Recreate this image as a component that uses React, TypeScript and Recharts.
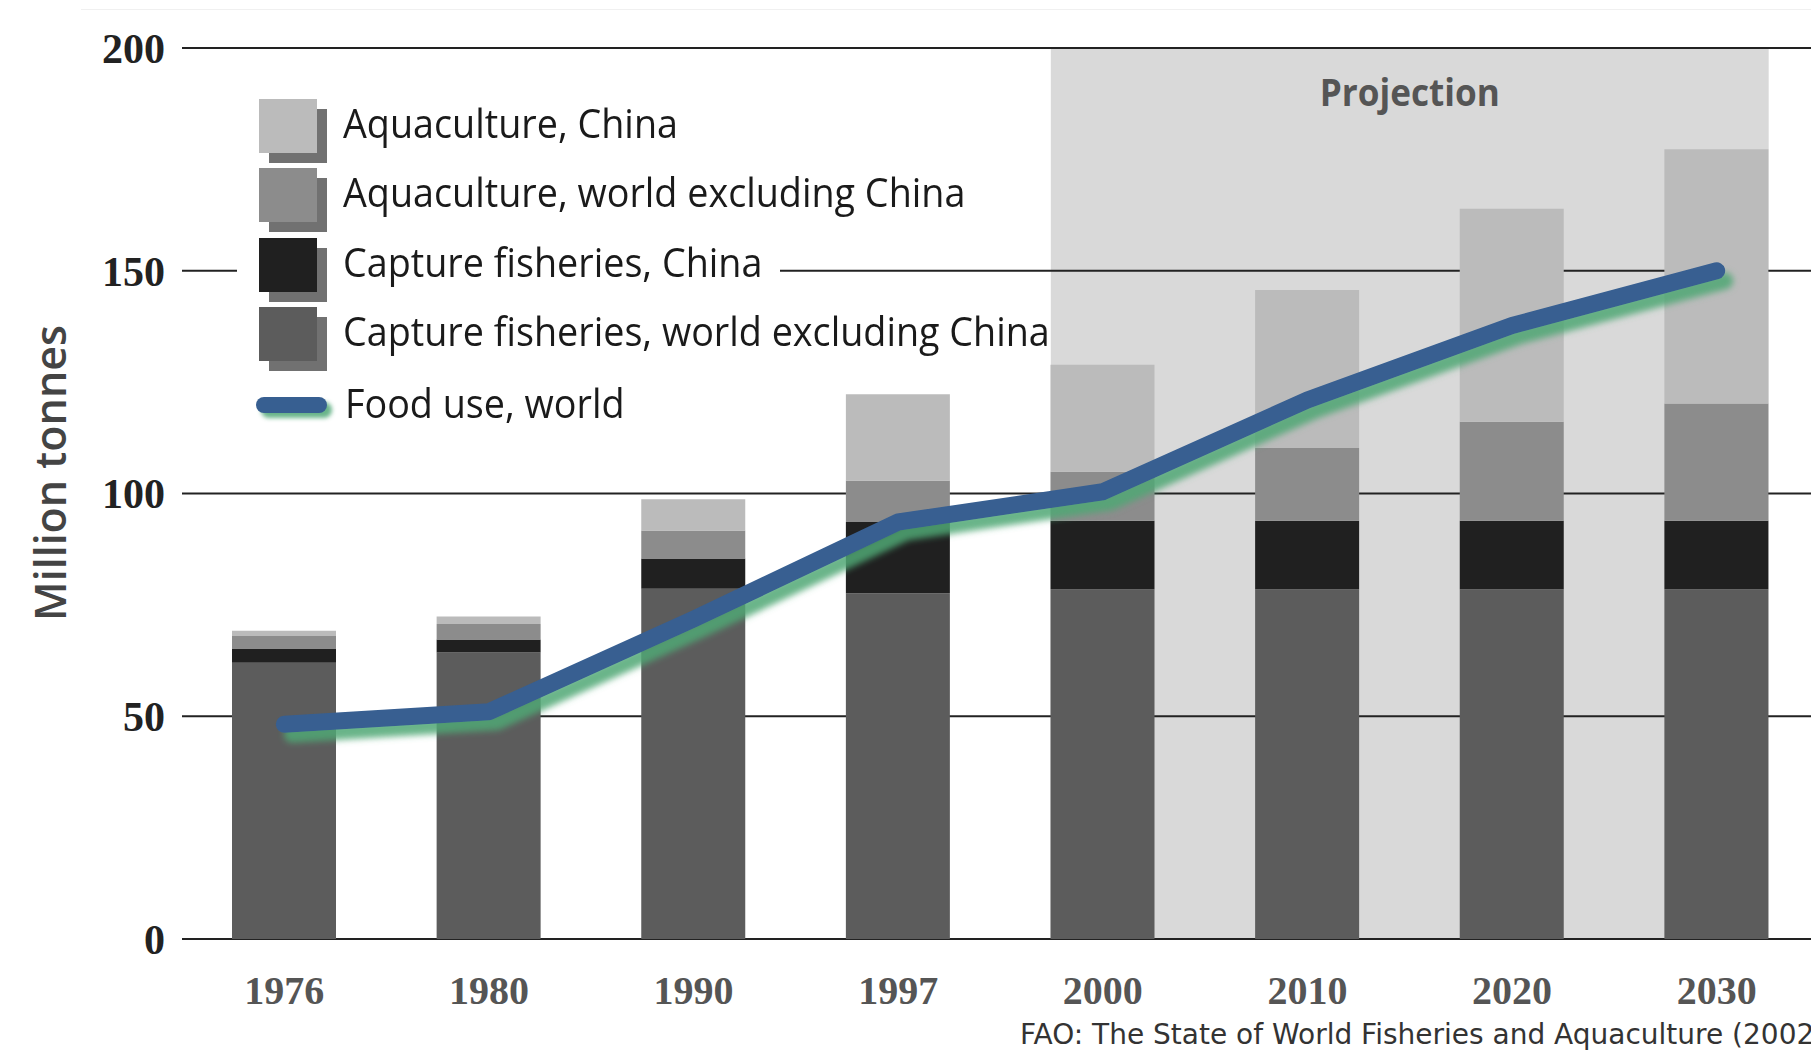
import { Bar, CartesianGrid, ComposedChart, Line, ReferenceArea, XAxis, YAxis } from "recharts";

// values, million tonnes
const years = ["1976", "1980", "1990", "1997", "2000", "2010", "2020", "2030"];
const captureWorld = [62.0, 64.3, 78.6, 77.6, 78.5, 78.5, 78.5, 78.5];
const captureChina = [3.2, 2.9, 6.8, 16.0, 15.4, 15.4, 15.4, 15.4];
const aquaWorld = [2.8, 3.5, 6.3, 9.3, 11.0, 16.3, 22.2, 26.3];
const aquaChina = [1.2, 1.7, 7.0, 19.4, 24.0, 35.5, 47.8, 57.1];
const foodUse = [48.2, 51.0, 71.8, 93.6, 100.4, 121.0, 137.7, 150.0];
const yTicks = [0, 50, 100, 150, 200];
const projectionYears = ["2000", "2030"];

const legendItems = [
  { label: "Aquaculture, China", color: "#bbbbbb" },
  { label: "Aquaculture, world excluding China", color: "#8c8c8c" },
  { label: "Capture fisheries, China", color: "#202020" },
  { label: "Capture fisheries, world excluding China", color: "#5c5c5c" },
];

const data = years.map((year, i) => ({
  year,
  captureWorld: captureWorld[i],
  captureChina: captureChina[i],
  aquaWorld: aquaWorld[i],
  aquaChina: aquaChina[i],
  food: foodUse[i],
}));

const BAR_SIZE = 104;
const textFont = "'Open Sans', 'Noto Sans', sans-serif";
const numFont = "'Liberation Serif', 'DejaVu Serif', serif";

function ProjectionShape(props: any) {
  const { x, y, width, height } = props;
  const n = years.indexOf(projectionYears[1]) - years.indexOf(projectionYears[0]) + 1;
  const inset = (width / n - BAR_SIZE) / 2;
  return (
    <g>
      <rect x={x + inset} y={y} width={width - inset * 2} height={height} fill="#d9d9d9" />
      <text
        x={x + width / 2}
        y={y + 48}
        textAnchor="middle"
        dominantBaseline="middle"
        fill="#555555"
        fontFamily={textFont}
        fontWeight={700}
        fontSize={37}
        textLength={180}
        lengthAdjust="spacingAndGlyphs"
      >
        Projection
      </text>
    </g>
  );
}

export default function App() {
  return (
    <div
      style={{
        position: "absolute",
        left: 0,
        top: 0,
        width: 1811,
        height: 1052,
        overflow: "hidden",
        background: "#ffffff",
      }}
    >
      <div style={{ position: "absolute", left: 81, right: 0, top: 9, height: 1, background: "#f0f0f0" }} />
      <ComposedChart
        width={1811}
        height={1052}
        data={data}
        margin={{ top: 48, right: -8, bottom: 83, left: 0 }}
        barCategoryGap={0}
        style={{ overflow: "visible" }}
      >
        <defs>
          <filter id="glow" x="-10%" y="-20%" width="130%" height="160%">
            <feDropShadow dx={8} dy={10} stdDeviation={3} floodColor="#4fa775" floodOpacity={0.85} />
          </filter>
        </defs>
        <ReferenceArea
          x1={projectionYears[0]}
          x2={projectionYears[1]}
          y1={0}
          y2={200}
          shape={ProjectionShape}
          zIndex={-150}
        />
        <CartesianGrid horizontal vertical={false} stroke="#222222" strokeWidth={2} strokeOpacity={1} />
        <XAxis
          dataKey="year"
          height={30}
          axisLine={false}
          tickLine={false}
          tickSize={0}
          tickMargin={37}
          tick={{ fill: "#555555", fontSize: 40, fontWeight: 700, fontFamily: numFont }}
          interval={0}
        />
        <YAxis
          domain={[0, 200]}
          ticks={yTicks}
          width={182}
          axisLine={false}
          tickLine={false}
          tickSize={0}
          tickMargin={17}
          tick={{ fill: "#222222", fontSize: 42, fontWeight: 700, fontFamily: numFont }}
        />
        <Bar dataKey="captureWorld" stackId="a" fill="#5c5c5c" barSize={BAR_SIZE} isAnimationActive={false} />
        <Bar dataKey="captureChina" stackId="a" fill="#202020" barSize={BAR_SIZE} isAnimationActive={false} />
        <Bar dataKey="aquaWorld" stackId="a" fill="#8c8c8c" barSize={BAR_SIZE} isAnimationActive={false} />
        <Bar dataKey="aquaChina" stackId="a" fill="#bbbbbb" barSize={BAR_SIZE} isAnimationActive={false} />
        <Line
          type="linear"
          dataKey="food"
          stroke="#375f91"
          strokeWidth={17}
          strokeLinecap="round"
          strokeLinejoin="round"
          dot={false}
          filter="url(#glow)"
          isAnimationActive={false}
        />
      </ComposedChart>

      {/* white patch where the legend interrupts the 150 gridline */}
      <div style={{ position: "absolute", left: 237, top: 236, width: 543, height: 62, background: "#ffffff" }} />

      {legendItems.map((item, i) => (
        <div key={item.label} style={{ position: "absolute", left: 259, top: 99 + i * 69.3, height: 54 }}>
          <div style={{ position: "absolute", left: 10, top: 10, width: 58, height: 54, background: "#717171" }} />
          <div style={{ position: "absolute", left: 0, top: 0, width: 58, height: 54, background: item.color }} />
          <div
            style={{
              position: "absolute",
              left: 84,
              top: -5,
              whiteSpace: "nowrap",
              fontFamily: textFont,
              fontSize: 41,
              color: "#1a1a1a",
              transform: "scaleX(0.92)",
              transformOrigin: "left center",
            }}
          >
            {item.label}
          </div>
        </div>
      ))}
      <div style={{ position: "absolute", left: 256, top: 397, width: 71, height: 16 }}>
        <div
          style={{
            width: 71,
            height: 16,
            borderRadius: 8,
            background: "#375f91",
            boxShadow: "5px 5px 4px rgba(79,167,117,0.85)",
          }}
        />
      </div>
      <div
        style={{
          position: "absolute",
          left: 345,
          top: 374,
          whiteSpace: "nowrap",
          fontFamily: textFont,
          fontSize: 41,
          color: "#1a1a1a",
          transform: "scaleX(0.92)",
          transformOrigin: "left center",
        }}
      >
        Food use, world
      </div>

      <div
        style={{
          position: "absolute",
          left: 49,
          top: 473,
          transform: "translate(-50%, -50%) rotate(-90deg)",
          whiteSpace: "nowrap",
          fontFamily: textFont,
          fontWeight: 600,
          fontSize: 43,
          color: "#444444",
        }}
      >
        Million tonnes
      </div>

      <div
        style={{
          position: "absolute",
          left: 1020,
          top: 1021,
          whiteSpace: "nowrap",
          fontFamily: "'DejaVu Sans', sans-serif",
          fontSize: 28,
          lineHeight: 1,
          color: "#333333",
        }}
      >
        FAO: The State of World Fisheries and Aquaculture (2002)
      </div>
    </div>
  );
}
